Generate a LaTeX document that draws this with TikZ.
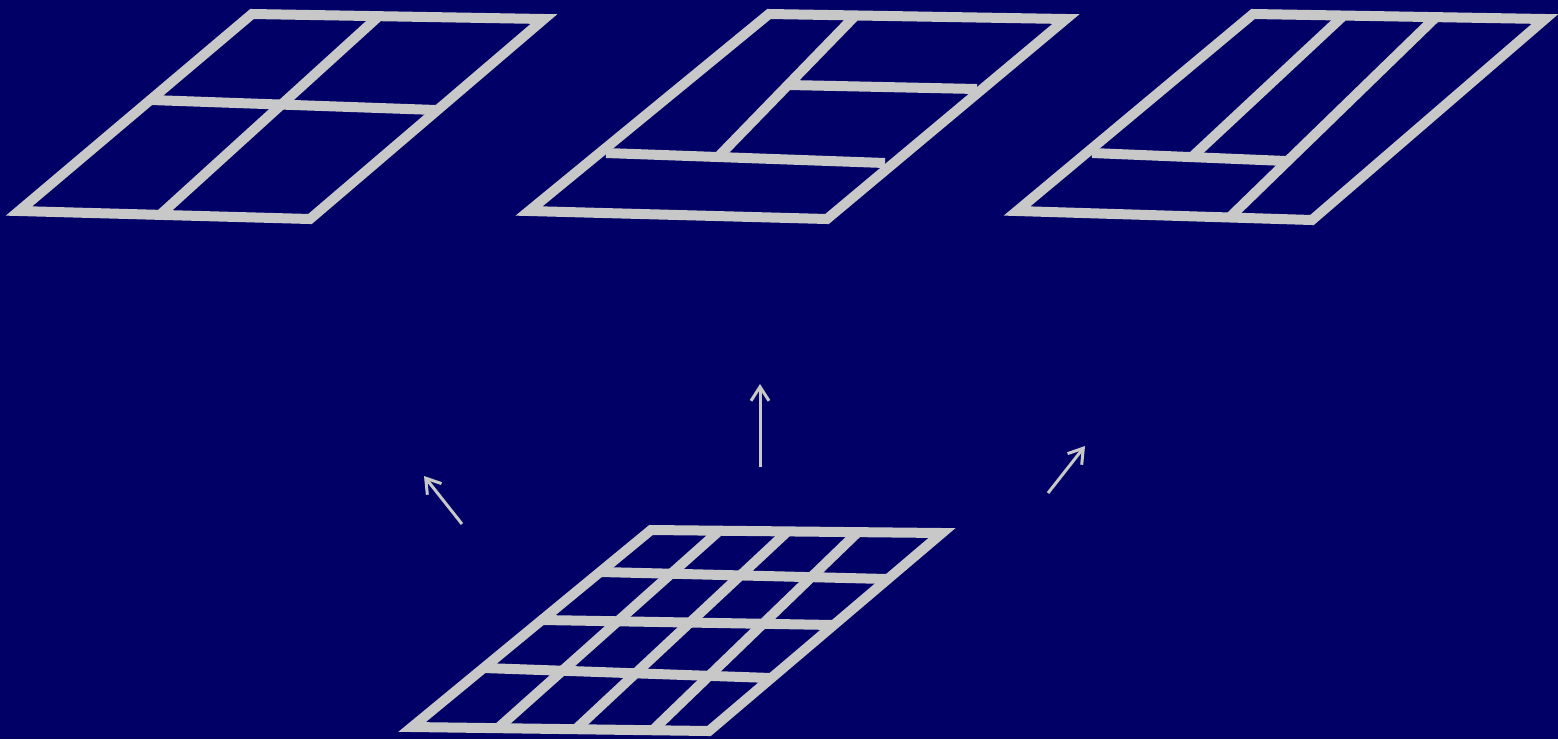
\documentclass[tikz,border=0pt]{standalone}
\usepackage{xcolor}
\usepackage{tikz}
\usetikzlibrary{arrows.meta}
\definecolor{navybg}{RGB}{0,0,102}
\definecolor{gridgray}{RGB}{200,200,200}
\tikzset{
  gridline/.style={draw=gridgray, line width=0.1cm, line join=miter},
  arr/.style={-{Straight Barb[length=0.14cm, width=0.18cm]}, draw=gridgray, line width=0.03cm}
}

\begin{document}
\begin{tikzpicture}[x=0.01cm, y=-0.01cm]

  % ---- Background ----
  \fill[navybg] (0,0) rectangle (1558,739);
  \useasboundingbox (0,0) rectangle (1558,739);

  % ---- Top left: 2 x 2 ----
  \coordinate (aTL) at (252,14);
  \coordinate (aTR) at (544,19);
  \coordinate (aBR) at (310,219);
  \coordinate (aBL) at (19,211);
  \draw[gridline] (aTL) -- (aTR) -- (aBR) -- (aBL) -- cycle;
  \coordinate (aMl) at (151,100);
  \coordinate (aMr) at (436,110);
  \coordinate (aMt) at (379,16);
  \coordinate (aMb) at (161,214);
  \draw[gridline] (aMl) -- (aMr);
  \draw[gridline] (aMt) -- (aMb);

  % ---- Top middle: split rows ----
  \coordinate (bTL) at (769,14);
  \coordinate (bTR) at (1066,19);
  \coordinate (bBR) at (827,219);
  \coordinate (bBL) at (529,211);
  \draw[gridline] (bTL) -- (bTR) -- (bBR) -- (bBL) -- cycle;
  \coordinate (bLl) at (606,153);
  \coordinate (bLr) at (885,163);
  \coordinate (bDt) at (854,17);
  \coordinate (bDb) at (720,155);
  \coordinate (bUl) at (789,85);
  \coordinate (bUr) at (977,89);
  \draw[gridline] (bLl) -- (bLr);
  \draw[gridline] (bDt) -- (bDb);
  \draw[gridline] (bUl) -- (bUr);

  % ---- Top right: split columns ----
  \coordinate (cTL) at (1253,14);
  \coordinate (cTR) at (1545,19);
  \coordinate (cBR) at (1312,220);
  \coordinate (cBL) at (1017,211);
  \draw[gridline] (cTL) -- (cTR) -- (cBR) -- (cBL) -- cycle;
  \coordinate (cHl) at (1092,153);
  \coordinate (cHr) at (1286,161);
  \coordinate (cAt) at (1342,17);
  \coordinate (cAb) at (1193,156);
  \coordinate (cBt) at (1436,17);
  \coordinate (cBb) at (1229,218);
  \draw[gridline] (cHl) -- (cHr);
  \draw[gridline] (cAt) -- (cAb);
  \draw[gridline] (cBt) -- (cBb);

  % ---- Bottom: 4 x 4 ----
  \coordinate (dTL) at (651,530);
  \coordinate (dTR) at (942,533);
  \coordinate (dBR) at (709,731);
  \coordinate (dBL) at (412,727);
  \draw[gridline] (dTL) -- (dTR) -- (dBR) -- (dBL) -- cycle;
  \draw[gridline] (601,572) -- (887,579);
  \draw[gridline] (543,620) -- (834,625);
  \draw[gridline] (484,668) -- (771,678);
  \draw[gridline] (719,531) -- (497,729);
  \draw[gridline] (788,531) -- (576,729);
  \draw[gridline] (858,532) -- (653,730);

  % ---- Arrows ----
  \coordinate (upTail) at (760,467);
  \coordinate (upTip) at (760,384);
  \coordinate (lfTail) at (462,524);
  \coordinate (lfTip) at (424,476);
  \coordinate (rtTail) at (1048,493);
  \coordinate (rtTip) at (1085,446);
  \draw[arr] (upTail) -- (upTip);
  \draw[arr] (lfTail) -- (lfTip);
  \draw[arr] (rtTail) -- (rtTip);

\end{tikzpicture}
\end{document}
